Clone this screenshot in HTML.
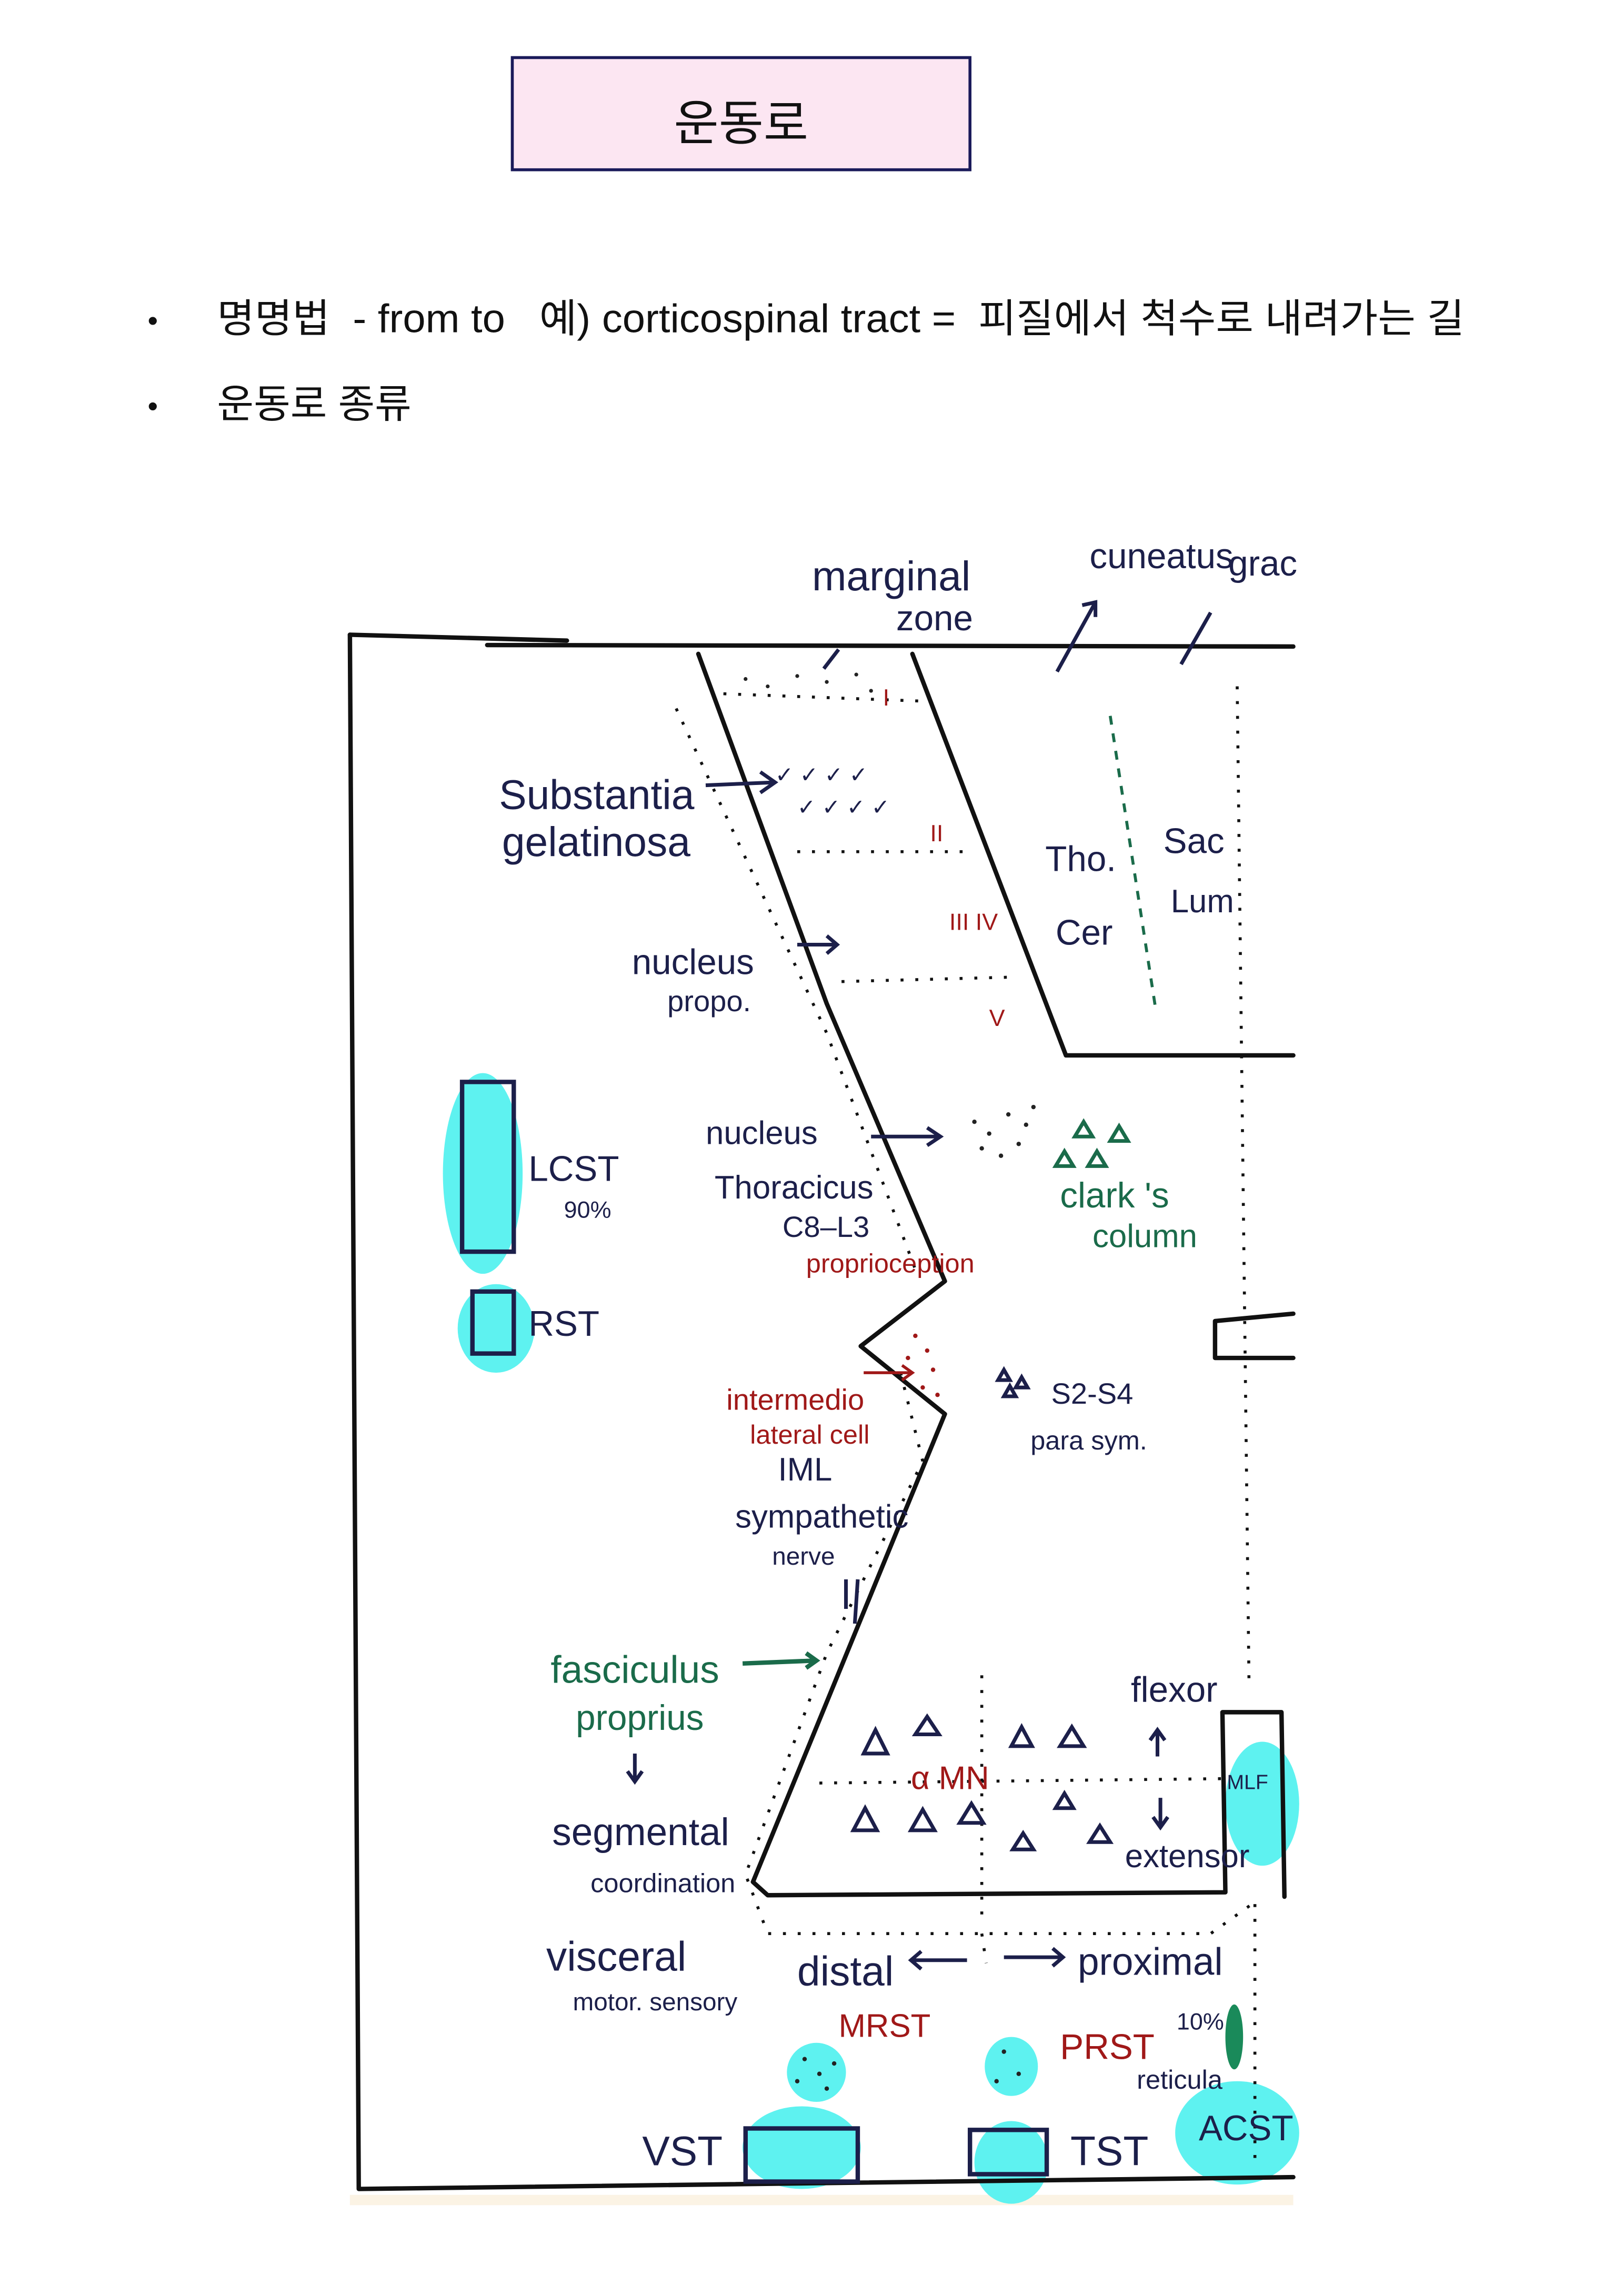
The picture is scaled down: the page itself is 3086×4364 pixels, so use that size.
<!DOCTYPE html>
<html><head><meta charset="utf-8"><style>
html,body{margin:0;padding:0;background:#fff;width:3086px;height:4364px;overflow:hidden}
svg{display:block}
.k{font-family:"Liberation Sans","Noto Sans CJK KR",sans-serif;fill:#111}
.h{font-family:"Liberation Sans Narrow","Liberation Sans",sans-serif}
.n{fill:#1c1f4a}.g{fill:#1a6b4a}.r{fill:#a01818}
</style></head><body>
<svg width="3086" height="4364" viewBox="0 0 1100 1555.5" xmlns="http://www.w3.org/2000/svg">
<rect x="347" y="39" width="310" height="76" fill="#fce6f2" stroke="#1a1a5a" stroke-width="2"/>
<text x="502" y="95" class="k" font-size="33" text-anchor="middle">운동로</text>
<text x="100" y="224" class="k" font-size="20">•</text>
<text x="147" y="225" class="k" font-size="27" textLength="845" lengthAdjust="spacingAndGlyphs" xml:space="preserve">명명법  - from to   예) corticospinal tract =  피질에서 척수로 내려가는 길</text>
<text x="100" y="282" class="k" font-size="20">•</text>
<text x="147" y="283" class="k" font-size="27">운동로 종류</text>

<rect x="237" y="1487" width="639" height="7" fill="#fbf3e4"/>
<g fill="#5ef2f0">
<ellipse cx="327" cy="795" rx="27" ry="68"/>
<ellipse cx="336" cy="900" rx="26" ry="30"/>
<ellipse cx="855" cy="1222" rx="25" ry="42"/>
<ellipse cx="553" cy="1404" rx="20" ry="20"/>
<ellipse cx="685" cy="1400" rx="18" ry="20"/>
<ellipse cx="543" cy="1455" rx="40" ry="28"/>
<ellipse cx="685" cy="1465" rx="25" ry="28"/>
<ellipse cx="838" cy="1445" rx="42" ry="35"/>
</g>
<ellipse cx="836" cy="1380" rx="6" ry="22" fill="#1a8a5a"/>
<g fill="none" stroke="#111" stroke-width="3" stroke-linecap="round" stroke-linejoin="round">
<path d="M237 430 L384 434 M330 437 L876 438"/>
<path d="M237 430 L243 1483 L876 1475"/>
<path d="M473 443 L560 680 L640 868 L583 912 L640 958 L510 1275 L520 1284 L830 1282 L828 1160 L868 1160 L870 1285"/>
<path d="M618 443 L722 715 L876 715"/>
<path d="M823 895 L876 890 M823 895 L823 920 L876 920"/>
</g>
<g fill="none" stroke="#1c1f4a" stroke-width="3">
<rect x="313" y="733" width="35" height="115"/>
<rect x="320" y="875" width="28" height="42"/>
<rect x="505" y="1442" width="76" height="36"/>
<rect x="657" y="1443" width="52" height="30"/>
</g>
<g fill="none" stroke="#111" stroke-width="2" stroke-dasharray="2 8">
<path d="M490 470 L625 475 M540 577 L660 577 M570 665 L685 662"/>
<path d="M458 480 L560 700 L620 860"/>
<path d="M610 930 L625 990 L560 1120 L505 1270 L520 1310 L820 1310 L848 1290"/>
<path d="M665 1135 L665 1300 M665 1310 L668 1330"/>
<path d="M838 465 L846 1140 M850 1290 L850 1470"/>
<path d="M555 1208 L830 1205"/>
</g>
<path d="M752 485 L783 685" stroke="#1a6b4a" stroke-width="2" stroke-dasharray="6 6" fill="none"/>
<g stroke="#1c1f4a" stroke-width="2.5" fill="none">
<path d="M478 532 L525 530 M515 523 L525 530 L515 537"/>
<path d="M540 640 L567 640 M560 634 L567 640 L560 646"/>
<path d="M590 770 L637 770 M628 764 L637 770 L628 776"/>
<path d="M716 455 L742 408 M733 410 L742 408 L742 418"/>
<path d="M800 450 L820 415"/>
<path d="M568 440 L558 453"/>
<path d="M430 1188 L430 1207 M425 1200 L430 1207 L435 1200"/>
<path d="M784 1190 L784 1172 M779 1179 L784 1172 L789 1179"/>
<path d="M786 1218 L786 1238 M781 1231 L786 1238 L791 1231"/>
<path d="M655 1328 L617 1328 M624 1322 L617 1328 L624 1334"/>
<path d="M680 1326 L720 1326 M713 1320 L720 1326 L713 1332"/>
<path d="M573 1090 L573 1070 M579 1100 L581 1070"/>
</g>
<path d="M503 1127 L553 1125 M546 1120 L553 1125 L546 1130" stroke="#1a6b4a" stroke-width="3" fill="none"/>
<path d="M585 930 L618 930 M611 925 L618 930 L611 935" stroke="#a01818" stroke-width="2" fill="none"/>
<g fill="none" stroke="#1c1f4a" stroke-width="2.5">
<path d="M585 1188 L593 1172 L601 1188Z M620 1175 L628 1163 L636 1175Z M685 1183 L692 1170 L699 1183Z M718 1183 L726 1170 L734 1183Z M578 1240 L586 1225 L594 1240Z M617 1240 L625 1226 L633 1240Z M650 1235 L658 1222 L666 1235Z M715 1225 L721 1215 L727 1225Z M686 1253 L693 1242 L700 1253Z M738 1248 L745 1237 L752 1248Z"/>
<path d="M728 770 L734 760 L740 770Z M752 773 L758 763 L764 773Z M715 790 L721 780 L727 790Z M737 790 L743 780 L749 790Z" stroke="#1a6b4a"/>
<path d="M676 935 L680 928 L684 935Z M688 940 L692 933 L696 940Z M680 946 L684 939 L688 946Z"/>
</g>
<g fill="#222">
<circle cx="660" cy="760" r="1.5"/><circle cx="670" cy="768" r="1.5"/><circle cx="683" cy="755" r="1.5"/><circle cx="690" cy="775" r="1.5"/><circle cx="700" cy="750" r="1.5"/><circle cx="665" cy="778" r="1.5"/><circle cx="695" cy="762" r="1.5"/><circle cx="678" cy="783" r="1.5"/>
<circle cx="545" cy="1395" r="1.5"/><circle cx="555" cy="1405" r="1.5"/><circle cx="565" cy="1398" r="1.5"/><circle cx="540" cy="1410" r="1.5"/><circle cx="560" cy="1415" r="1.5"/><circle cx="680" cy="1390" r="1.5"/><circle cx="690" cy="1405" r="1.5"/><circle cx="675" cy="1410" r="1.5"/>
<circle cx="505" cy="460" r="1.3"/><circle cx="520" cy="465" r="1.3"/><circle cx="540" cy="458" r="1.3"/><circle cx="560" cy="462" r="1.3"/><circle cx="580" cy="457" r="1.3"/><circle cx="590" cy="468" r="1.3"/>
</g>
<g fill="#a01818"><circle cx="620" cy="905" r="1.5"/><circle cx="628" cy="915" r="1.5"/><circle cx="632" cy="928" r="1.5"/><circle cx="625" cy="940" r="1.5"/><circle cx="635" cy="945" r="1.5"/><circle cx="615" cy="920" r="1.5"/></g>
<g class="h n" font-size="15" fill="#1c1f4a">
<text x="525" y="530">✓ ✓ ✓ ✓</text><text x="540" y="552">✓ ✓ ✓ ✓</text>
</g>
<g class="h">
<text x="550" y="400" font-size="28" class="n">marginal</text>
<text x="607" y="427" font-size="24" class="n">zone</text>
<text x="738" y="385" font-size="24" class="n">cuneatus</text>
<text x="832" y="390" font-size="24" class="n">grac</text>
<text x="338" y="548" font-size="28" class="n">Substantia</text>
<text x="340" y="580" font-size="28" class="n">gelatinosa</text>
<text x="428" y="660" font-size="24" class="n">nucleus</text>
<text x="452" y="685" font-size="20" class="n">propo.</text>
<text x="598" y="478" font-size="16" class="r">I</text>
<text x="630" y="570" font-size="16" class="r">II</text>
<text x="643" y="630" font-size="16" class="r">III IV</text>
<text x="670" y="695" font-size="16" class="r">V</text>
<text x="708" y="590" font-size="24" class="n">Tho.</text>
<text x="715" y="640" font-size="24" class="n">Cer</text>
<text x="788" y="578" font-size="24" class="n">Sac</text>
<text x="793" y="618" font-size="22" class="n">Lum</text>
<text x="358" y="800" font-size="24" class="n">LCST</text>
<text x="382" y="825" font-size="16" class="n">90%</text>
<text x="358" y="905" font-size="24" class="n">RST</text>
<text x="478" y="775" font-size="22" class="n">nucleus</text>
<text x="484" y="812" font-size="22" class="n">Thoracicus</text>
<text x="530" y="838" font-size="20" class="n">C8–L3</text>
<text x="546" y="862" font-size="18" class="r">proprioception</text>
<text x="718" y="818" font-size="24" class="g">clark 's</text>
<text x="740" y="845" font-size="22" class="g">column</text>
<text x="492" y="955" font-size="20" class="r">intermedio</text>
<text x="508" y="978" font-size="18" class="r">lateral cell</text>
<text x="527" y="1003" font-size="22" class="n">IML</text>
<text x="498" y="1035" font-size="22" class="n">sympathetic</text>
<text x="523" y="1060" font-size="17" class="n">nerve</text>
<text x="712" y="951" font-size="20" class="n">S2-S4</text>
<text x="698" y="982" font-size="18" class="n">para sym.</text>
<text x="373" y="1140" font-size="26" class="g">fasciculus</text>
<text x="390" y="1172" font-size="24" class="g">proprius</text>
<text x="374" y="1250" font-size="26" class="n">segmental</text>
<text x="400" y="1282" font-size="18" class="n">coordination</text>
<text x="766" y="1153" font-size="24" class="n">flexor</text>
<text x="762" y="1265" font-size="22" class="n">extensor</text>
<text x="617" y="1212" font-size="22" class="r">α MN</text>
<text x="831" y="1212" font-size="14" class="n">MLF</text>
<text x="370" y="1335" font-size="28" class="n">visceral</text>
<text x="388" y="1362" font-size="17" class="n">motor. sensory</text>
<text x="540" y="1345" font-size="28" class="n">distal</text>
<text x="730" y="1338" font-size="26" class="n">proximal</text>
<text x="568" y="1380" font-size="22" class="r">MRST</text>
<text x="718" y="1395" font-size="24" class="r">PRST</text>
<text x="797" y="1375" font-size="16" class="n">10%</text>
<text x="770" y="1415" font-size="18" class="n">reticula</text>
<text x="812" y="1450" font-size="24" class="n">ACST</text>
<text x="435" y="1467" font-size="28" class="n">VST</text>
<text x="725" y="1467" font-size="28" class="n">TST</text>
</g>
</svg>
</body></html>
